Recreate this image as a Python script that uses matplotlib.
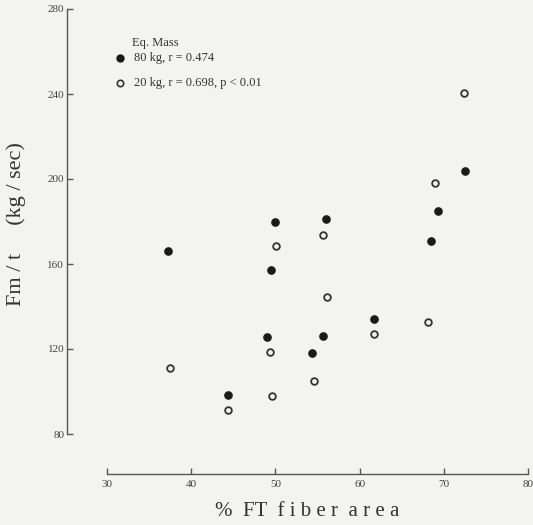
import matplotlib
matplotlib.use("Agg")
import matplotlib.pyplot as plt

ft80 = [37.3, 44.4, 49.0, 49.5, 49.9, 56.0, 55.6, 54.4, 61.7, 68.5, 69.3, 72.5]
fm80 = [166.1, 98.4, 125.6, 157.2, 179.8, 181.2, 126.1, 118.1, 134.1, 170.8, 184.9, 203.8]
ft20 = [37.5, 44.4, 49.6, 49.3, 50.1, 55.6, 56.1, 54.6, 61.7, 68.1, 68.9, 72.4]
fm20 = [111.1, 91.3, 97.9, 118.6, 168.5, 173.6, 144.5, 104.9, 127.1, 132.7, 198.1, 240.5]
xticks = [30, 40, 50, 60, 70, 80]
yticks = [80, 120, 160, 200, 240, 280]

plt.rcParams['font.family'] = ['Liberation Serif', 'DejaVu Serif']
W, H = 533, 525
fig = plt.figure(figsize=(W/100, H/100), dpi=100)
bg = '#f3f3f1'
fig.patch.set_facecolor(bg)
L, R, T, B = 67, 528, 9, 474
ax = fig.add_axes([L/W, 1-B/H, (R-L)/W, (B-T)/H])
ax.set_facecolor(bg)
ax.set_xlim(30 - 40/8.42, 80)
ax.set_ylim(80 - 40/2.125, 280)

ink = '#333333'
ax.plot(ft80, fm80, 'o', ms=5.2, color='#1a1a1a', mec='#1a1a1a', ls='none')
ax.plot(ft20, fm20, 'o', ms=4.8, mfc='none', mec='#333333', mew=1.3, ls='none')

for s in ['top', 'right']:
    ax.spines[s].set_visible(False)
ax.spines['left'].set_bounds(80, 280)
ax.spines['bottom'].set_bounds(30, 80)
for s in ['left', 'bottom']:
    ax.spines[s].set_color('#555555')
    ax.spines[s].set_linewidth(1.0)
ax.set_xticks(xticks)
ax.set_yticks(yticks)
ax.tick_params(direction='in', length=4, width=1.0, colors='#555555', labelsize=8, labelcolor='#444444', pad=2)
ax.tick_params(axis='x', pad=4)

# legend
fig.text(132/W, 1-43/H, 'Eq. Mass', fontsize=9, color=ink, va='center')
fig.lines.append(plt.Line2D([120/W], [1-58/H], marker='o', ms=5, color='#1a1a1a', transform=fig.transFigure))
fig.lines.append(plt.Line2D([120/W], [1-83/H], marker='o', ms=4.6, mfc='none', mec='#333333', mew=1.2, transform=fig.transFigure))
fig.text(134/W, 1-58/H, '80 kg, r = 0.474', fontsize=9, color=ink, va='center')
fig.text(134/W, 1-83/H, '20 kg, r = 0.698, p < 0.01', fontsize=9, color=ink, va='center')

fig.text(16/W, 1-224/H, 'Fm / t     (kg / sec)', rotation=90, fontsize=16, color=ink,
         ha='center', va='center')
fig.text(307/W, 1-511/H, '%  FT  f i b e r  a r e a', fontsize=15, color=ink,
         ha='center', va='center')

fig.savefig('out.png', dpi=100, facecolor=bg)
